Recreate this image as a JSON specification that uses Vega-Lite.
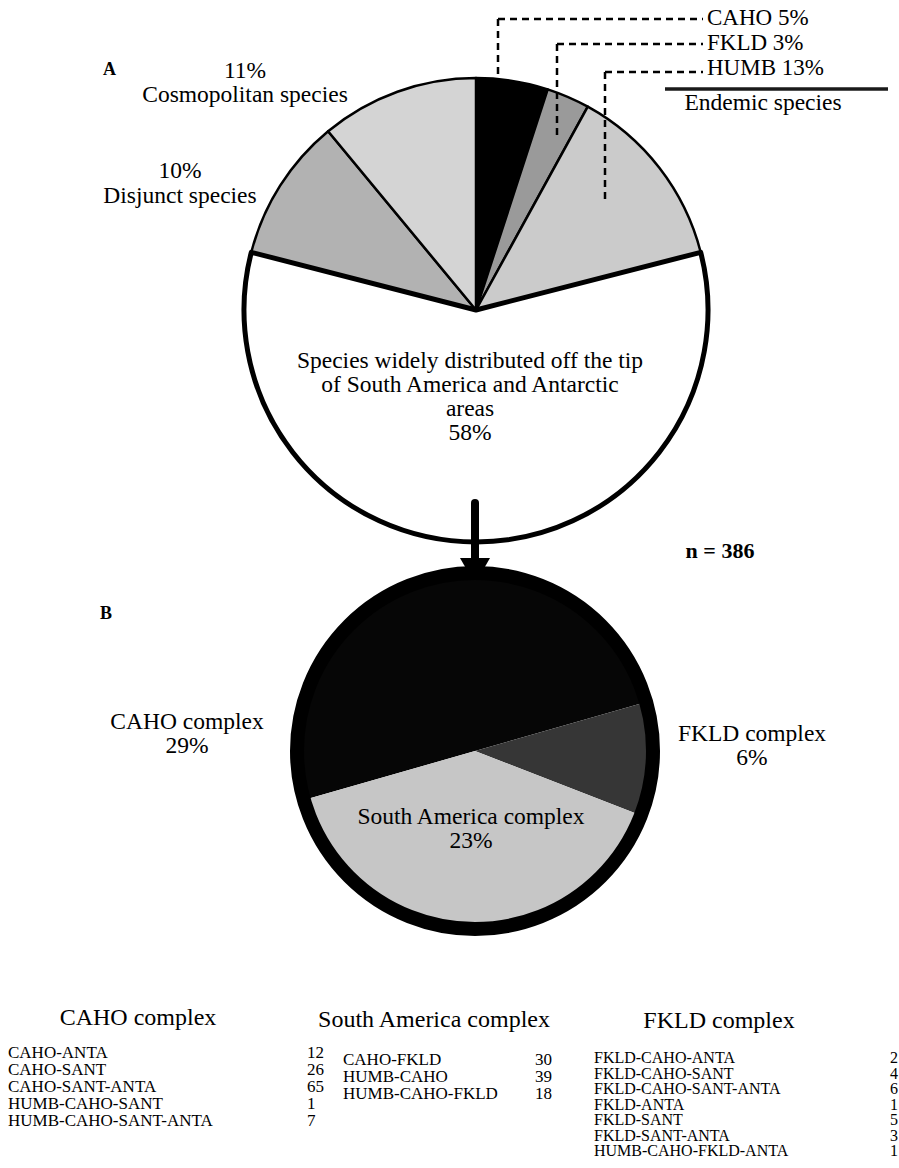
{
  "$schema": "https://vega.github.io/schema/vega-lite/v6.json",
  "width": 899,
  "height": 1168,
  "autosize": {"type": "fit", "contains": "padding"},
  "padding": 0,
  "background": "white",
  "config": {
    "font": "Liberation Serif",
    "view": {"stroke": null},
    "text": {"font": "Liberation Serif", "color": "black", "baseline": "alphabetic", "fontSize": 23.5},
    "rule": {"color": "black"}
  },
  "data": {"values": [{}]},
  "resolve": {"scale": {"y": "independent", "theta": "independent", "color": "independent"}},
  "layer": [
    {
      "data": {"values": [
        {"k": 1, "group": "CAHO", "pct": 5},
        {"k": 2, "group": "FKLD", "pct": 3},
        {"k": 3, "group": "HUMB", "pct": 13},
        {"k": 4, "group": "Widely distributed", "pct": 58},
        {"k": 5, "group": "Disjunct", "pct": 10},
        {"k": 6, "group": "Cosmopolitan", "pct": 11}
      ]},
      "encoding": {
        "theta": {"field": "pct", "type": "quantitative", "stack": true},
        "order": {"field": "k", "type": "quantitative"},
        "color": {"field": "group", "type": "nominal", "legend": null,
          "scale": {"domain": ["CAHO", "FKLD", "HUMB", "Widely distributed", "Disjunct", "Cosmopolitan"],
                    "range": ["#000000", "#9a9a9a", "#cbcbcb", "#ffffff", "#b2b2b2", "#d4d4d4"]}},
        "x": {"datum": 476, "type": "quantitative", "scale": {"domain": [0, 899], "nice": false, "zero": false}, "axis": null},
        "y": {"datum": 310, "type": "quantitative", "scale": {"domain": [0, 1168], "nice": false, "zero": false, "reverse": true}, "axis": null}
      },
      "layer": [
        {"mark": {"type": "arc", "radius": 232, "stroke": "black", "strokeWidth": 2.5, "strokeJoin": "round"}},
        {"mark": {"type": "arc", "radius": 232, "stroke": "black", "strokeWidth": 5, "strokeJoin": "round"},
         "encoding": {
           "fillOpacity": {"condition": {"test": "datum.group === 'Widely distributed'", "value": 1}, "value": 0},
           "strokeOpacity": {"condition": {"test": "datum.group === 'Widely distributed'", "value": 1}, "value": 0}
         }}
      ]
    },
    {"mark": {"type": "rule", "strokeDash": [7, 5], "strokeWidth": 2.5},
     "encoding": {"x": {"datum": 498, "type": "quantitative", "scale": {"domain": [0, 899], "nice": false, "zero": false}, "axis": null}, "x2": {"datum": 703},
                  "y": {"datum": 19, "type": "quantitative", "scale": {"domain": [0, 1168], "nice": false, "zero": false, "reverse": true}, "axis": null}}},
    {"mark": {"type": "rule", "strokeDash": [7, 5], "strokeWidth": 2.5},
     "encoding": {"x": {"datum": 498, "type": "quantitative", "scale": {"domain": [0, 899], "nice": false, "zero": false}, "axis": null},
                  "y": {"datum": 19, "type": "quantitative", "scale": {"domain": [0, 1168], "nice": false, "zero": false, "reverse": true}, "axis": null}, "y2": {"datum": 78}}},
    {"mark": {"type": "rule", "strokeDash": [7, 5], "strokeWidth": 2.5},
     "encoding": {"x": {"datum": 557, "type": "quantitative", "scale": {"domain": [0, 899], "nice": false, "zero": false}, "axis": null}, "x2": {"datum": 703},
                  "y": {"datum": 44, "type": "quantitative", "scale": {"domain": [0, 1168], "nice": false, "zero": false, "reverse": true}, "axis": null}}},
    {"mark": {"type": "rule", "strokeDash": [7, 5], "strokeWidth": 2.5},
     "encoding": {"x": {"datum": 557, "type": "quantitative", "scale": {"domain": [0, 899], "nice": false, "zero": false}, "axis": null},
                  "y": {"datum": 44, "type": "quantitative", "scale": {"domain": [0, 1168], "nice": false, "zero": false, "reverse": true}, "axis": null}, "y2": {"datum": 137}}},
    {"mark": {"type": "rule", "strokeDash": [7, 5], "strokeWidth": 2.5},
     "encoding": {"x": {"datum": 605, "type": "quantitative", "scale": {"domain": [0, 899], "nice": false, "zero": false}, "axis": null}, "x2": {"datum": 703},
                  "y": {"datum": 72, "type": "quantitative", "scale": {"domain": [0, 1168], "nice": false, "zero": false, "reverse": true}, "axis": null}}},
    {"mark": {"type": "rule", "strokeDash": [7, 5], "strokeWidth": 2.5},
     "encoding": {"x": {"datum": 605, "type": "quantitative", "scale": {"domain": [0, 899], "nice": false, "zero": false}, "axis": null},
                  "y": {"datum": 72, "type": "quantitative", "scale": {"domain": [0, 1168], "nice": false, "zero": false, "reverse": true}, "axis": null}, "y2": {"datum": 202}}},
    {"mark": {"type": "rule", "strokeWidth": 3.5, "color": "#1a1a1a"},
     "encoding": {"x": {"datum": 665, "type": "quantitative", "scale": {"domain": [0, 899], "nice": false, "zero": false}, "axis": null}, "x2": {"datum": 888},
                  "y": {"datum": 89, "type": "quantitative", "scale": {"domain": [0, 1168], "nice": false, "zero": false, "reverse": true}, "axis": null}}},
    {"mark": {"type": "rule", "strokeWidth": 8, "strokeCap": "round"},
     "encoding": {"x": {"datum": 475, "type": "quantitative", "scale": {"domain": [0, 899], "nice": false, "zero": false}, "axis": null},
                  "y": {"datum": 503, "type": "quantitative", "scale": {"domain": [0, 1168], "nice": false, "zero": false, "reverse": true}, "axis": null}, "y2": {"datum": 562}}},
    {"mark": {"type": "point", "shape": "triangle-down", "size": 900, "filled": true, "color": "black", "opacity": 1},
     "encoding": {"x": {"datum": 475, "type": "quantitative", "scale": {"domain": [0, 899], "nice": false, "zero": false}, "axis": null},
                  "y": {"datum": 571, "type": "quantitative", "scale": {"domain": [0, 1168], "nice": false, "zero": false, "reverse": true}, "axis": null}}},
    {
      "data": {"values": [
        {"k": 1, "group": "CAHO complex", "pct": 29},
        {"k": 2, "group": "FKLD complex", "pct": 6},
        {"k": 3, "group": "South America complex", "pct": 23}
      ]},
      "mark": {"type": "arc", "radius": 179},
      "encoding": {
        "theta": {"field": "pct", "type": "quantitative", "stack": true, "scale": {"range": [4.4331, 10.7163]}},
        "order": {"field": "k", "type": "quantitative"},
        "color": {"field": "group", "type": "nominal", "legend": null,
          "scale": {"domain": ["CAHO complex", "FKLD complex", "South America complex"], "range": ["#060606", "#363636", "#c6c6c6"]}},
        "x": {"datum": 475, "type": "quantitative", "scale": {"domain": [0, 899], "nice": false, "zero": false}, "axis": null},
        "y": {"datum": 751, "type": "quantitative", "scale": {"domain": [0, 1168], "nice": false, "zero": false, "reverse": true}, "axis": null}
      }
    },
    {"mark": {"type": "point", "shape": "circle", "size": 126736, "filled": false, "color": "black", "stroke": "black", "strokeWidth": 14, "opacity": 1},
     "encoding": {"x": {"datum": 475, "type": "quantitative", "scale": {"domain": [0, 899], "nice": false, "zero": false}, "axis": null},
                  "y": {"datum": 751, "type": "quantitative", "scale": {"domain": [0, 1168], "nice": false, "zero": false, "reverse": true}, "axis": null}}},
    {"mark": {"type": "text", "align": "left", "font": "Liberation Serif", "fontWeight": "bold", "fontSize": 18},
     "encoding": {"text": {"value": "A"}, "x": {"datum": 103, "type": "quantitative", "scale": {"domain": [0, 899], "nice": false, "zero": false}, "axis": null},
                  "y": {"datum": 75, "type": "quantitative", "scale": {"domain": [0, 1168], "nice": false, "zero": false, "reverse": true}, "axis": null}}},
    {"mark": {"type": "text", "align": "left", "font": "Liberation Serif", "fontWeight": "bold", "fontSize": 18},
     "encoding": {"text": {"value": "B"}, "x": {"datum": 100, "type": "quantitative", "scale": {"domain": [0, 899], "nice": false, "zero": false}, "axis": null},
                  "y": {"datum": 619, "type": "quantitative", "scale": {"domain": [0, 1168], "nice": false, "zero": false, "reverse": true}, "axis": null}}},
    {"mark": {"type": "text", "align": "center", "font": "Liberation Serif", "fontWeight": "bold", "fontSize": 22},
     "encoding": {"text": {"value": "n = 386"}, "x": {"datum": 720, "type": "quantitative", "scale": {"domain": [0, 899], "nice": false, "zero": false}, "axis": null},
                  "y": {"datum": 558, "type": "quantitative", "scale": {"domain": [0, 1168], "nice": false, "zero": false, "reverse": true}, "axis": null}}},
    {"mark": {"type": "text", "align": "center", "font": "Liberation Serif", "lineHeight": 24},
     "encoding": {"text": {"value": ["11%", "Cosmopolitan species"]}, "x": {"datum": 245, "type": "quantitative", "scale": {"domain": [0, 899], "nice": false, "zero": false}, "axis": null},
                  "y": {"datum": 78, "type": "quantitative", "scale": {"domain": [0, 1168], "nice": false, "zero": false, "reverse": true}, "axis": null}}},
    {"mark": {"type": "text", "align": "center", "font": "Liberation Serif", "lineHeight": 25},
     "encoding": {"text": {"value": ["10%", "Disjunct species"]}, "x": {"datum": 180, "type": "quantitative", "scale": {"domain": [0, 899], "nice": false, "zero": false}, "axis": null},
                  "y": {"datum": 178, "type": "quantitative", "scale": {"domain": [0, 1168], "nice": false, "zero": false, "reverse": true}, "axis": null}}},
    {"mark": {"type": "text", "align": "left", "font": "Liberation Serif", "fontSize": 23, "lineHeight": 25},
     "encoding": {"text": {"value": ["CAHO 5%", "FKLD 3%", "HUMB 13%"]}, "x": {"datum": 707, "type": "quantitative", "scale": {"domain": [0, 899], "nice": false, "zero": false}, "axis": null},
                  "y": {"datum": 25, "type": "quantitative", "scale": {"domain": [0, 1168], "nice": false, "zero": false, "reverse": true}, "axis": null}}},
    {"mark": {"type": "text", "align": "center", "font": "Liberation Serif"},
     "encoding": {"text": {"value": "Endemic species"}, "x": {"datum": 763, "type": "quantitative", "scale": {"domain": [0, 899], "nice": false, "zero": false}, "axis": null},
                  "y": {"datum": 110, "type": "quantitative", "scale": {"domain": [0, 1168], "nice": false, "zero": false, "reverse": true}, "axis": null}}},
    {"mark": {"type": "text", "align": "center", "font": "Liberation Serif", "lineHeight": 24},
     "encoding": {"text": {"value": ["Species widely distributed off the tip", "of  South America and Antarctic", "areas", "58%"]},
                  "x": {"datum": 470, "type": "quantitative", "scale": {"domain": [0, 899], "nice": false, "zero": false}, "axis": null},
                  "y": {"datum": 368, "type": "quantitative", "scale": {"domain": [0, 1168], "nice": false, "zero": false, "reverse": true}, "axis": null}}},
    {"mark": {"type": "text", "align": "center", "font": "Liberation Serif", "lineHeight": 24},
     "encoding": {"text": {"value": ["CAHO complex", "29%"]}, "x": {"datum": 187, "type": "quantitative", "scale": {"domain": [0, 899], "nice": false, "zero": false}, "axis": null},
                  "y": {"datum": 729, "type": "quantitative", "scale": {"domain": [0, 1168], "nice": false, "zero": false, "reverse": true}, "axis": null}}},
    {"mark": {"type": "text", "align": "center", "font": "Liberation Serif", "lineHeight": 24},
     "encoding": {"text": {"value": ["FKLD complex", "6%"]}, "x": {"datum": 752, "type": "quantitative", "scale": {"domain": [0, 899], "nice": false, "zero": false}, "axis": null},
                  "y": {"datum": 741, "type": "quantitative", "scale": {"domain": [0, 1168], "nice": false, "zero": false, "reverse": true}, "axis": null}}},
    {"mark": {"type": "text", "align": "center", "font": "Liberation Serif", "lineHeight": 24},
     "encoding": {"text": {"value": ["South America complex", "23%"]}, "x": {"datum": 471, "type": "quantitative", "scale": {"domain": [0, 899], "nice": false, "zero": false}, "axis": null},
                  "y": {"datum": 824, "type": "quantitative", "scale": {"domain": [0, 1168], "nice": false, "zero": false, "reverse": true}, "axis": null}}},
    {"mark": {"type": "text", "align": "center", "font": "Liberation Serif", "fontSize": 24},
     "encoding": {"text": {"value": "CAHO complex"}, "x": {"datum": 138, "type": "quantitative", "scale": {"domain": [0, 899], "nice": false, "zero": false}, "axis": null},
                  "y": {"datum": 1025, "type": "quantitative", "scale": {"domain": [0, 1168], "nice": false, "zero": false, "reverse": true}, "axis": null}}},
    {"mark": {"type": "text", "align": "center", "font": "Liberation Serif", "fontSize": 24},
     "encoding": {"text": {"value": "South America complex"}, "x": {"datum": 434, "type": "quantitative", "scale": {"domain": [0, 899], "nice": false, "zero": false}, "axis": null},
                  "y": {"datum": 1027, "type": "quantitative", "scale": {"domain": [0, 1168], "nice": false, "zero": false, "reverse": true}, "axis": null}}},
    {"mark": {"type": "text", "align": "center", "font": "Liberation Serif", "fontSize": 24},
     "encoding": {"text": {"value": "FKLD complex"}, "x": {"datum": 719, "type": "quantitative", "scale": {"domain": [0, 899], "nice": false, "zero": false}, "axis": null},
                  "y": {"datum": 1028, "type": "quantitative", "scale": {"domain": [0, 1168], "nice": false, "zero": false, "reverse": true}, "axis": null}}},
    {
      "data": {"values": [
        {"name": "CAHO-ANTA", "n": 12},
        {"name": "CAHO-SANT", "n": 26},
        {"name": "CAHO-SANT-ANTA", "n": 65},
        {"name": "HUMB-CAHO-SANT", "n": 1},
        {"name": "HUMB-CAHO-SANT-ANTA", "n": 7}
      ]},
      "encoding": {"y": {"field": "name", "type": "nominal", "sort": null, "scale": {"type": "point", "range": [1058, 1126], "padding": 0}, "axis": null}},
      "layer": [
        {"mark": {"type": "text", "align": "left", "font": "Liberation Serif", "fontSize": 17},
         "encoding": {"text": {"field": "name", "type": "nominal"}, "x": {"datum": 8, "type": "quantitative", "scale": {"domain": [0, 899], "nice": false, "zero": false}, "axis": null}}},
        {"mark": {"type": "text", "align": "left", "font": "Liberation Serif", "fontSize": 17},
         "encoding": {"text": {"field": "n", "type": "quantitative"}, "x": {"datum": 307, "type": "quantitative", "scale": {"domain": [0, 899], "nice": false, "zero": false}, "axis": null}}}
      ]
    },
    {
      "data": {"values": [
        {"name": "CAHO-FKLD", "n": 30},
        {"name": "HUMB-CAHO", "n": 39},
        {"name": "HUMB-CAHO-FKLD", "n": 18}
      ]},
      "encoding": {"y": {"field": "name", "type": "nominal", "sort": null, "scale": {"type": "point", "range": [1065, 1099], "padding": 0}, "axis": null}},
      "layer": [
        {"mark": {"type": "text", "align": "left", "font": "Liberation Serif", "fontSize": 17},
         "encoding": {"text": {"field": "name", "type": "nominal"}, "x": {"datum": 343, "type": "quantitative", "scale": {"domain": [0, 899], "nice": false, "zero": false}, "axis": null}}},
        {"mark": {"type": "text", "align": "left", "font": "Liberation Serif", "fontSize": 17},
         "encoding": {"text": {"field": "n", "type": "quantitative"}, "x": {"datum": 535, "type": "quantitative", "scale": {"domain": [0, 899], "nice": false, "zero": false}, "axis": null}}}
      ]
    },
    {
      "data": {"values": [
        {"name": "FKLD-CAHO-ANTA", "n": 2},
        {"name": "FKLD-CAHO-SANT", "n": 4},
        {"name": "FKLD-CAHO-SANT-ANTA", "n": 6},
        {"name": "FKLD-ANTA", "n": 1},
        {"name": "FKLD-SANT", "n": 5},
        {"name": "FKLD-SANT-ANTA", "n": 3},
        {"name": "HUMB-CAHO-FKLD-ANTA", "n": 1}
      ]},
      "encoding": {"y": {"field": "name", "type": "nominal", "sort": null, "scale": {"type": "point", "range": [1063, 1156], "padding": 0}, "axis": null}},
      "layer": [
        {"mark": {"type": "text", "align": "left", "font": "Liberation Serif", "fontSize": 16},
         "encoding": {"text": {"field": "name", "type": "nominal"}, "x": {"datum": 594, "type": "quantitative", "scale": {"domain": [0, 899], "nice": false, "zero": false}, "axis": null}}},
        {"mark": {"type": "text", "align": "right", "font": "Liberation Serif", "fontSize": 16},
         "encoding": {"text": {"field": "n", "type": "quantitative"}, "x": {"datum": 898, "type": "quantitative", "scale": {"domain": [0, 899], "nice": false, "zero": false}, "axis": null}}}
      ]
    }
  ]
}
